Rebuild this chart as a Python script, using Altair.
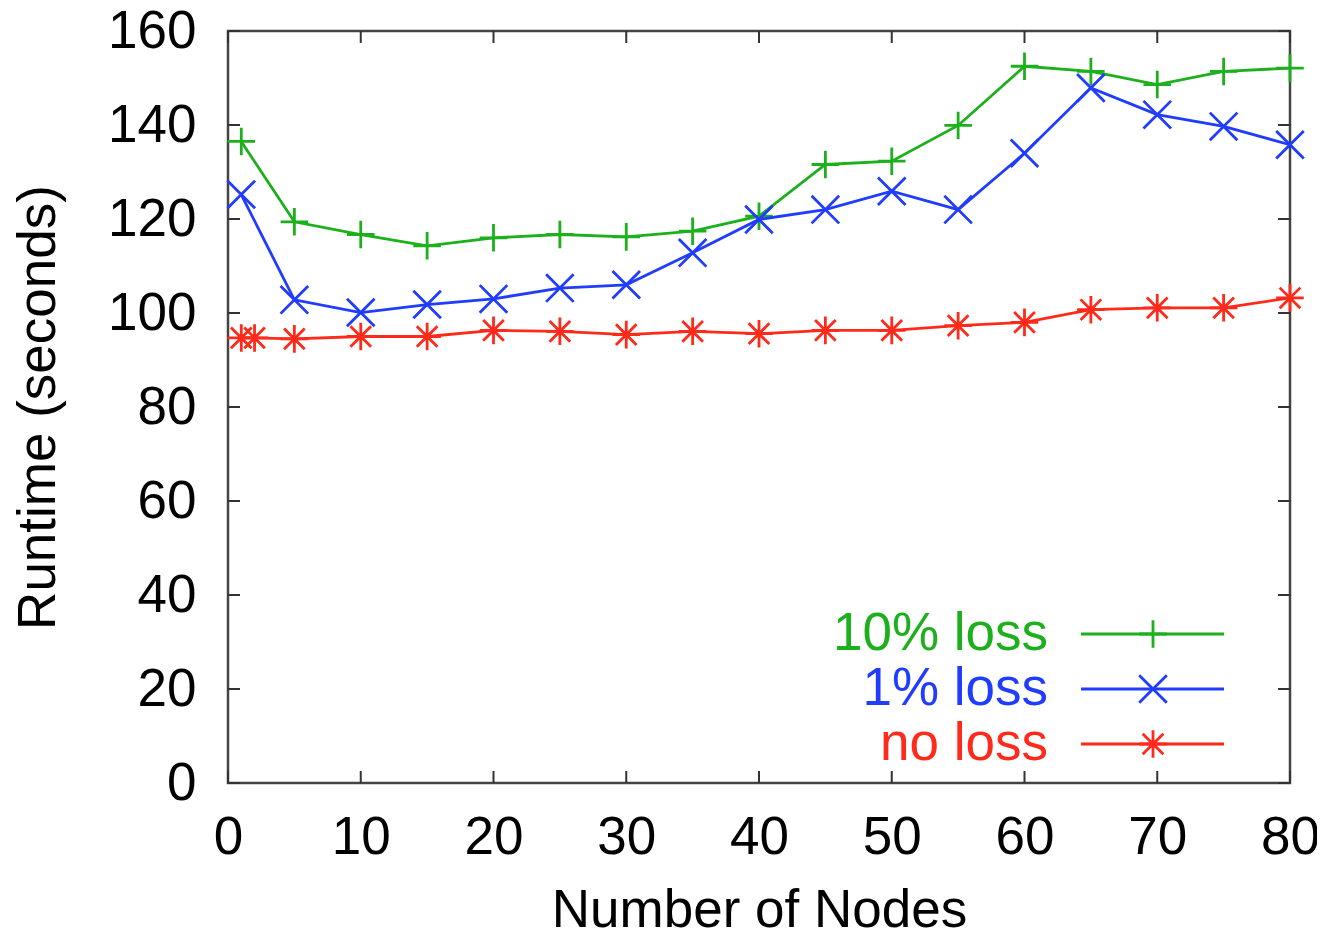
import altair as alt
import pandas as pd

# ---- data ----
nodes = [1, 5, 10, 15, 20, 25, 30, 35, 40, 45, 50, 55, 60, 65, 70, 75, 80]
loss10 = [136.5, 119.4, 116.7, 114.3, 116.0, 116.7, 116.2, 117.4, 120.6,
          131.6, 132.3, 139.9, 152.5, 151.4, 148.6, 151.4, 152.1]
loss1 = [125.2, 102.8, 100.1, 101.8, 103.0, 105.3, 106.0, 112.8, 119.9,
         122.0, 125.9, 122.0, 134.0, 147.9, 142.2, 139.7, 135.8]
nodes_noloss = [1, 2, 5, 10, 15, 20, 25, 30, 35, 40, 45, 50, 55, 60, 65, 70, 75, 80]
noloss = [94.7, 94.7, 94.5, 95.0, 95.0, 96.3, 96.1, 95.4, 96.1, 95.6,
          96.3, 96.3, 97.3, 98.0, 100.7, 101.1, 101.1, 103.2]

series_names = ["10% loss", "1% loss", "no loss"]
series_colors = ["#1cb01c", "#1f3cff", "#ff2a1a"]

x_ticks = [0, 10, 20, 30, 40, 50, 60, 70, 80]
y_ticks = [0, 20, 40, 60, 80, 100, 120, 140, 160]

# ---- style ----
W, H = 1062, 752
FONT = "Liberation Sans"
FS = 53
LW = 2.8
TICK = 12

PLUS = "M-1,0L1,0M0,-1L0,1"
CROSS = "M-1,-1L1,1M-1,1L1,-1"
STAR = "M-1,0L1,0M0,-1L0,1M-0.75,-0.75L0.75,0.75M-0.75,0.75L0.75,-0.75"
shapes = [PLUS, CROSS, STAR]
MSIZE = 760

df = pd.concat([
    pd.DataFrame({"nodes": nodes, "runtime": loss10, "series": series_names[0]}),
    pd.DataFrame({"nodes": nodes, "runtime": loss1, "series": series_names[1]}),
    pd.DataFrame({"nodes": nodes_noloss, "runtime": noloss, "series": series_names[2]}),
])

xs = alt.Scale(domain=[0, 80], nice=False, zero=False)
ys = alt.Scale(domain=[0, 160], nice=False)

x_enc = alt.X("nodes:Q", scale=xs, axis=alt.Axis(
    title="Number of Nodes", values=x_ticks, ticks=False, domain=False, grid=False,
    labelFlush=False, labelOverlap=False, labelBound=False,
    labelFont=FONT, labelFontSize=FS, labelColor="#000", labelPadding=28,
    titleFont=FONT, titleFontSize=FS, titleFontWeight="normal", titleColor="#000",
    titlePadding=20))
y_enc = alt.Y("runtime:Q", scale=ys, axis=alt.Axis(
    title="Runtime (seconds)", values=y_ticks, ticks=False, domain=False, grid=False,
    labelFlush=False, labelOverlap=False, labelBound=False,
    labelFont=FONT, labelFontSize=FS, labelColor="#000", labelPadding=32,
    titleFont=FONT, titleFontSize=FS, titleFontWeight="normal", titleColor="#000",
    titlePadding=42))

layers = []
for name, color, shp in zip(series_names, series_colors, shapes):
    sub = df[df["series"] == name]
    base = alt.Chart(sub)
    layers.append(base.mark_line(color=color, strokeWidth=LW).encode(x=x_enc, y=y_enc))
    layers.append(base.mark_point(shape=shp, filled=False, color=color,
                                  strokeWidth=LW, size=MSIZE, opacity=1)
                  .encode(x=x_enc, y=y_enc))

# inward ticks on all four sides (gnuplot style)
tick_color = "#333333"
xt = pd.DataFrame({"t": x_ticks})
yt = pd.DataFrame({"t": y_ticks})
layers.append(alt.Chart(xt).mark_rule(color=tick_color, strokeWidth=2).encode(
    x=alt.X("t:Q", scale=xs), y=alt.value(H - TICK), y2=alt.value(H)))
layers.append(alt.Chart(xt).mark_rule(color=tick_color, strokeWidth=2).encode(
    x=alt.X("t:Q", scale=xs), y=alt.value(0), y2=alt.value(TICK)))
layers.append(alt.Chart(yt).mark_rule(color=tick_color, strokeWidth=2).encode(
    y=alt.Y("t:Q", scale=ys), x=alt.value(0), x2=alt.value(TICK)))
layers.append(alt.Chart(yt).mark_rule(color=tick_color, strokeWidth=2).encode(
    y=alt.Y("t:Q", scale=ys), x=alt.value(W - TICK), x2=alt.value(W)))

# legend (bottom-right inside plot area, labels left of samples)
leg_rows_y = [603, 658, 713]
text_right = 820
line_x1, line_x2, mark_x = 853, 996, 925
for i, (name, color, shp) in enumerate(zip(series_names, series_colors, shapes)):
    ld = pd.DataFrame({"label": [name]})
    lc = alt.Chart(ld)
    layers.append(lc.mark_text(align="right", baseline="middle", font=FONT,
                               fontSize=FS, color=color).encode(
        text="label:N", x=alt.value(text_right), y=alt.value(leg_rows_y[i])))
    layers.append(lc.mark_rule(color=color, strokeWidth=LW).encode(
        x=alt.value(line_x1), x2=alt.value(line_x2), y=alt.value(leg_rows_y[i])))
    layers.append(lc.mark_point(shape=shp, filled=False, color=color,
                                strokeWidth=LW, size=MSIZE, opacity=1).encode(
        x=alt.value(mark_x), y=alt.value(leg_rows_y[i])))

chart = alt.layer(*layers).properties(
    width=W, height=H,
    autosize=alt.AutoSizeParams(type="none"),
    padding={"left": 220, "top": 23, "right": 27, "bottom": 145},
).configure(background="white").configure_view(stroke="#444444", strokeWidth=2.5)

chart.save("out.html", embed_options={"renderer": "svg", "actions": False})
